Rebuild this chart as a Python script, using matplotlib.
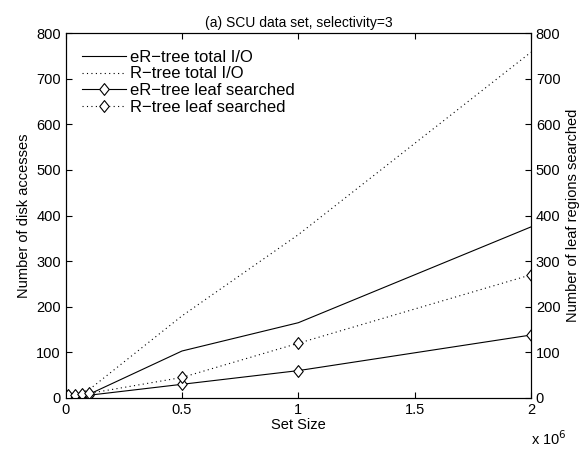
import numpy as np
import matplotlib
matplotlib.use('Agg')
import matplotlib.pyplot as plt
from matplotlib.path import Path

plt.rcParams['font.family'] = ['Liberation Sans', 'DejaVu Sans']
plt.rcParams['font.size'] = 10.5

# datos (set size en millones)
set_size = [0.01, 0.04, 0.07, 0.1, 0.5, 1.0, 2.0]
er_total = [5, 6, 7, 8, 103, 165, 375]
r_total = [5, 8, 12, 18, 180, 358, 758]
er_leaf = [5, 5, 6, 6, 30, 60, 138]
r_leaf = [6, 7, 9, 10, 45, 120, 270]

# rombo estilo matlab
rombo = Path([(0, 1), (0.8, 0), (0, -1), (-0.8, 0), (0, 1)],
             [Path.MOVETO, Path.LINETO, Path.LINETO, Path.LINETO, Path.CLOSEPOLY])

fig = plt.figure(figsize=(5.84, 4.5), dpi=100)
ax = fig.add_axes([0.1125, 0.1156, 0.7967, 0.811])
ax2 = ax.twinx()

l1, = ax.plot(set_size, er_total, color='k', lw=0.8, label='eR\u2212tree total I/O')
l2, = ax.plot(set_size, r_total, color='k', lw=0.8, ls=(0, (1, 3)), label='R\u2212tree total I/O')
l3, = ax2.plot(set_size, er_leaf, color='k', lw=0.8, marker=rombo, ms=8.5, mfc='white',
               mew=0.8, label='eR\u2212tree leaf searched')
l4, = ax2.plot(set_size, r_leaf, color='k', lw=0.8, ls=(0, (1, 3)), marker=rombo, ms=8.5,
               mfc='white', mew=0.8, label='R\u2212tree leaf searched')

for a in (ax, ax2):
    a.set_xlim(0, 2)
    a.set_ylim(0, 800)
    a.set_yticks(np.arange(0, 801, 100))
    a.tick_params(direction='in', length=4, width=0.8)
    for s in a.spines.values():
        s.set_linewidth(0.8)
ax.tick_params(top=True)
ax.set_xticks([0, 0.5, 1, 1.5, 2])
ax.set_xticklabels(['0', '0.5', '1', '1.5', '2'])

ax.set_xlabel('Set Size', labelpad=1)
ax.set_ylabel('Number of disk accesses', labelpad=4)
ax2.set_ylabel('Number of leaf regions searched', labelpad=4)
ax.set_title('(a) SCU data set, selectivity=3', fontsize=10, pad=4)
ax.text(1.0, -0.085, r'x 10$^6$', transform=ax.transAxes, ha='left', va='top', fontsize=10.5)

ax.legend(handles=[l1, l2, l3, l4], loc='upper left', frameon=False,
          handlelength=2.6, handletextpad=0.25, borderaxespad=0.6, borderpad=0.4,
          labelspacing=0.1, fontsize=12)

plt.savefig('out.png', dpi=100)
